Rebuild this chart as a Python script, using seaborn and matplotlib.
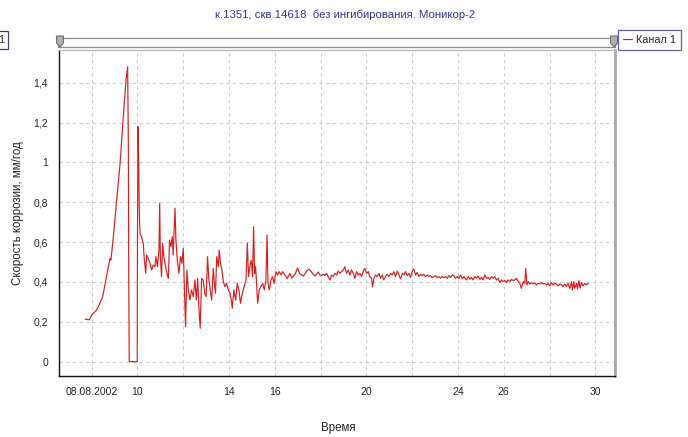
import numpy as np
import pandas as pd
import matplotlib
matplotlib.use("Agg")
import matplotlib.pyplot as plt
from matplotlib.patches import Rectangle, Polygon
import seaborn as sns

# ---------------- data (day of August 2002, corrosion rate mm/year) ----------------
days_rise = [7.71, 7.90, 8.00, 8.19, 8.29, 8.48, 8.65, 8.80, 8.84, 8.94, 9.09, 9.24,
             9.31, 9.38, 9.50, 9.57, 9.60, 9.62, 9.64, 9.99]
rate_rise = [0.213, 0.210, 0.234, 0.256, 0.276, 0.326, 0.427, 0.519, 0.510, 0.620, 0.810, 0.995,
             1.110, 1.230, 1.413, 1.480, 1.110, 0.376, 0.000, 0.000]

days_restart = [10.00, 10.02, 10.04, 10.06, 10.08, 10.11, 10.18, 10.25, 10.30, 10.36, 10.40,
                10.47, 10.55, 10.62, 10.69, 10.76, 10.81, 10.87, 10.94, 10.97, 11.00, 11.05,
                11.10, 11.15, 11.23, 11.30, 11.35, 11.40, 11.46, 11.52, 11.56, 11.64, 11.68,
                11.74, 11.81, 11.88, 11.94, 12.00, 12.05, 12.10, 12.16, 12.22, 12.29, 12.36,
                12.44, 12.51, 12.57, 12.63, 12.68, 12.74, 12.80, 12.87, 12.94, 13.00, 13.06,
                13.12, 13.18, 13.24, 13.31]
rate_restart = [0.600, 1.180, 1.100, 0.910, 0.750, 0.644, 0.627, 0.594, 0.510, 0.443, 0.535,
                0.518, 0.493, 0.460, 0.485, 0.477, 0.527, 0.477, 0.560, 0.795, 0.527, 0.426,
                0.594, 0.527, 0.477, 0.435, 0.418, 0.610, 0.577, 0.627, 0.535, 0.770, 0.610,
                0.510, 0.443, 0.527, 0.493, 0.569, 0.376, 0.176, 0.460, 0.360, 0.310, 0.360,
                0.326, 0.410, 0.310, 0.418, 0.276, 0.168, 0.418, 0.410, 0.343, 0.326, 0.527,
                0.410, 0.360, 0.309, 0.468]

days_unstable = [13.36, 13.41, 13.46, 13.53, 13.57, 13.63, 13.69, 13.75, 13.82, 13.89, 13.97,
                 14.04, 14.10, 14.14, 14.21, 14.29, 14.36, 14.43, 14.50, 14.58, 14.66, 14.74,
                 14.80, 14.85, 14.91, 14.97, 15.03, 15.07, 15.12, 15.16, 15.20, 15.25, 15.32,
                 15.39, 15.47, 15.54, 15.61, 15.66, 15.70, 15.76, 15.83, 15.90, 15.97, 16.05,
                 16.12, 16.19, 16.27, 16.34, 16.44, 16.54, 16.66]
rate_unstable = [0.393, 0.343, 0.527, 0.477, 0.560, 0.493, 0.460, 0.402, 0.376, 0.393, 0.360,
                 0.343, 0.309, 0.268, 0.360, 0.309, 0.393, 0.360, 0.293, 0.343, 0.376, 0.410,
                 0.594, 0.426, 0.477, 0.510, 0.426, 0.677, 0.443, 0.477, 0.393, 0.293, 0.360,
                 0.376, 0.393, 0.360, 0.410, 0.636, 0.393, 0.360, 0.410, 0.426, 0.393, 0.452,
                 0.435, 0.452, 0.435, 0.452, 0.435, 0.418, 0.443]

days_steady = [16.74, 16.89, 16.99, 17.10, 17.25, 17.40, 17.50, 17.60, 17.75, 17.90,
               17.97, 18.04, 18.12, 18.19, 18.26, 18.33, 18.41, 18.48, 18.55, 18.62, 18.70,
               18.77, 18.84, 18.92, 18.99, 19.06, 19.13, 19.21, 19.28, 19.35, 19.43, 19.50,
               19.57, 19.64, 19.72, 19.79, 19.86, 19.93, 20.01, 20.08, 20.15, 20.23, 20.27,
               20.33, 20.40, 20.47, 20.55, 20.62, 20.69, 20.76, 20.84, 20.91, 20.98, 21.06,
               21.13, 21.20, 21.27, 21.35, 21.42, 21.49, 21.57, 21.64, 21.71, 21.78, 21.86,
               21.93, 22.00, 22.07, 22.15, 22.22, 22.29, 22.37, 22.44, 22.51, 22.58, 22.66,
               22.73, 22.80, 22.87, 22.95, 23.02, 23.09, 23.17, 23.24, 23.31, 23.38, 23.46,
               23.53, 23.60, 23.68, 23.75, 23.82, 23.89, 23.97, 24.04, 24.11, 24.19, 24.26]
rate_steady = [0.420, 0.440, 0.470, 0.440, 0.430, 0.455, 0.465, 0.450, 0.430, 0.450,
               0.435, 0.432, 0.438, 0.432, 0.443, 0.427, 0.410, 0.435, 0.427, 0.443, 0.435,
               0.455, 0.443, 0.452, 0.460, 0.477, 0.443, 0.460, 0.435, 0.460, 0.443, 0.418,
               0.452, 0.435, 0.443, 0.427, 0.452, 0.468, 0.443, 0.452, 0.427, 0.418, 0.376,
               0.418, 0.435, 0.427, 0.443, 0.418, 0.435, 0.410, 0.427, 0.438, 0.427, 0.443,
               0.435, 0.452, 0.427, 0.455, 0.435, 0.415, 0.443, 0.435, 0.452, 0.432, 0.443,
               0.422, 0.452, 0.465, 0.435, 0.448, 0.427, 0.438, 0.432, 0.438, 0.427, 0.435,
               0.427, 0.432, 0.422, 0.427, 0.432, 0.422, 0.427, 0.418, 0.427, 0.422, 0.427,
               0.418, 0.432, 0.422, 0.435, 0.432, 0.418, 0.427, 0.418, 0.435, 0.415, 0.427]

days_late = [24.37, 24.45, 24.52, 24.59, 24.66, 24.74, 24.81, 24.88, 24.96, 25.03, 25.10,
             25.17, 25.25, 25.32, 25.39, 25.46, 25.54, 25.61, 25.68, 25.76, 25.83, 25.90,
             25.97, 26.05, 26.12, 26.19, 26.27, 26.34, 26.41, 26.48, 26.56, 26.63, 26.70,
             26.77, 26.85, 26.92, 26.96, 27.01, 27.07, 27.14, 27.21, 27.28, 27.36, 27.43,
             27.50, 27.58, 27.65, 27.72, 27.79, 27.87, 27.94, 28.01, 28.08, 28.16, 28.23,
             28.30, 28.38, 28.45, 28.52, 28.59, 28.67, 28.74, 28.81, 28.89, 28.96, 29.00,
             29.06, 29.10, 29.18, 29.22, 29.28, 29.34, 29.39, 29.47, 29.54, 29.61, 29.69]
rate_late = [0.410, 0.427, 0.413, 0.423, 0.410, 0.427, 0.418, 0.430, 0.413, 0.423, 0.410,
             0.435, 0.418, 0.423, 0.413, 0.427, 0.418, 0.427, 0.410, 0.418, 0.397, 0.410,
             0.402, 0.407, 0.397, 0.410, 0.402, 0.413, 0.407, 0.410, 0.418, 0.402, 0.393,
             0.368, 0.402, 0.393, 0.468, 0.385, 0.402, 0.390, 0.397, 0.390, 0.393, 0.385,
             0.393, 0.390, 0.397, 0.390, 0.393, 0.385, 0.393, 0.380, 0.397, 0.385, 0.393,
             0.390, 0.380, 0.390, 0.385, 0.376, 0.390, 0.376, 0.393, 0.368, 0.402, 0.360,
             0.402, 0.368, 0.393, 0.364, 0.407, 0.368, 0.397, 0.380, 0.393, 0.385, 0.393]

x_tick_values = [8, 10, 14, 16, 20, 24, 26, 30]
x_tick_labels = ["08.08.2002", "10", "14", "16", "20", "24", "26", "30"]
x_grid_values = list(range(8, 31, 2))
y_tick_values = [0, 0.2, 0.4, 0.6, 0.8, 1.0, 1.2, 1.4]
y_tick_labels = ["0", "0,2", "0,4", "0,6", "0,8", "1", "1,2", "1,4"]

title = "к.1351, скв.14618  без ингибирования. Моникор-2"
y_label = "Скорость коррозии, мм/год"
x_label = "Время"
series_name = "Канал 1"

df = pd.DataFrame({
    "day": days_rise + days_restart + days_unstable + days_steady + days_late,
    "rate": rate_rise + rate_restart + rate_unstable + rate_steady + rate_late,
})

# ---------------- styling ----------------
sns.set_style("white")
FONT = ["Liberation Sans", "DejaVu Sans"]
plt.rcParams["font.family"] = FONT

W, H = 688, 437
fig = plt.figure(figsize=(W / 100, H / 100), dpi=100)

def fx(px):
    return px / W

def fy(py):
    return 1 - py / H

ax_l, ax_r, ax_t, ax_b = 59.3, 615.0, 50.0, 376.0
ax = fig.add_axes([fx(ax_l), fy(ax_b), fx(ax_r - ax_l), (ax_b - ax_t) / H])

LINE_RED = "#d81f1f"
sns.lineplot(data=df, x="day", y="rate", color=LINE_RED, lw=0.85,
             estimator=None, sort=False, ax=ax, label=series_name)

ax.set_xlim(6.585, 30.86)
ax.set_ylim(-0.072, 1.564)

ax.set_xticks(x_tick_values)
ax.set_xticklabels(x_tick_labels)
ax.set_xticks(x_grid_values, minor=True)
ax.set_yticks(y_tick_values)
ax.set_yticklabels(y_tick_labels)

ax.tick_params(axis="x", which="major", length=4, width=0.8, direction="out",
               labelsize=7.5, pad=4, colors="#222222")
ax.tick_params(axis="x", which="minor", length=0)
ax.tick_params(axis="y", which="major", length=3, width=0.8, direction="out",
               labelsize=7.5, pad=5, colors="#222222")

grid_kw = dict(color="#cccccc", lw=0.8, ls=(0, (3, 3)))
ax.grid(True, axis="x", which="both", **grid_kw)
ax.grid(True, axis="y", which="major", **grid_kw)
ax.set_axisbelow(True)

for side in ["left", "bottom"]:
    ax.spines[side].set_color("#111111")
    ax.spines[side].set_linewidth(1.0)
ax.spines["right"].set_color("#a8a8a8")
ax.spines["right"].set_linewidth(2.0)
ax.spines["top"].set_color("#b8b8b8")
ax.spines["top"].set_linewidth(1.0)

ax.set_xlabel("")
ax.set_ylabel("")

# legend (outside, top-right)
leg = ax.legend(loc="upper left", bbox_to_anchor=(fx(618), fy(30)),
                bbox_transform=fig.transFigure, frameon=True, fancybox=False,
                fontsize=7.8, handlelength=0.8, handletextpad=0.4,
                borderpad=0.45, borderaxespad=0)
leg.get_frame().set_edgecolor("#3c3c78")
leg.get_frame().set_linewidth(0.9)

# titles / labels
fig.text(fx(345), fy(15), title, ha="center", va="center",
         fontsize=8.2, color="#33339a")
fig.text(fx(18), fy(213), y_label, rotation=90, ha="center", va="center",
         fontsize=8.3, color="#222222")
fig.text(fx(338), fy(428), x_label, ha="center", va="center",
         fontsize=8.3, color="#222222")

# partly hidden box at far left (as in the reference)
fig.text(fx(4), fy(40), "1", ha="right", va="center", fontsize=7.8, color="#222222",
         bbox=dict(boxstyle="square,pad=0.35", fc="white", ec="#3c3c78", lw=0.9))

# slider bar above plot
fig.add_artist(Rectangle((fx(58), fy(47)), fx(615 - 58), (47 - 38) / H,
                         transform=fig.transFigure, fc="white", ec="#8a8a8a", lw=0.9))

def handle(cx):
    pts = [(cx - 3.5, 36), (cx + 3.5, 36), (cx + 3.5, 43), (cx, 47), (cx - 3.5, 43)]
    return Polygon([(fx(a), fy(b)) for a, b in pts], closed=True,
                   transform=fig.transFigure, fc="#b0b0b0", ec="#707070", lw=0.8)

fig.add_artist(handle(60))
fig.add_artist(handle(614))

fig.savefig("out.png", dpi=100)
